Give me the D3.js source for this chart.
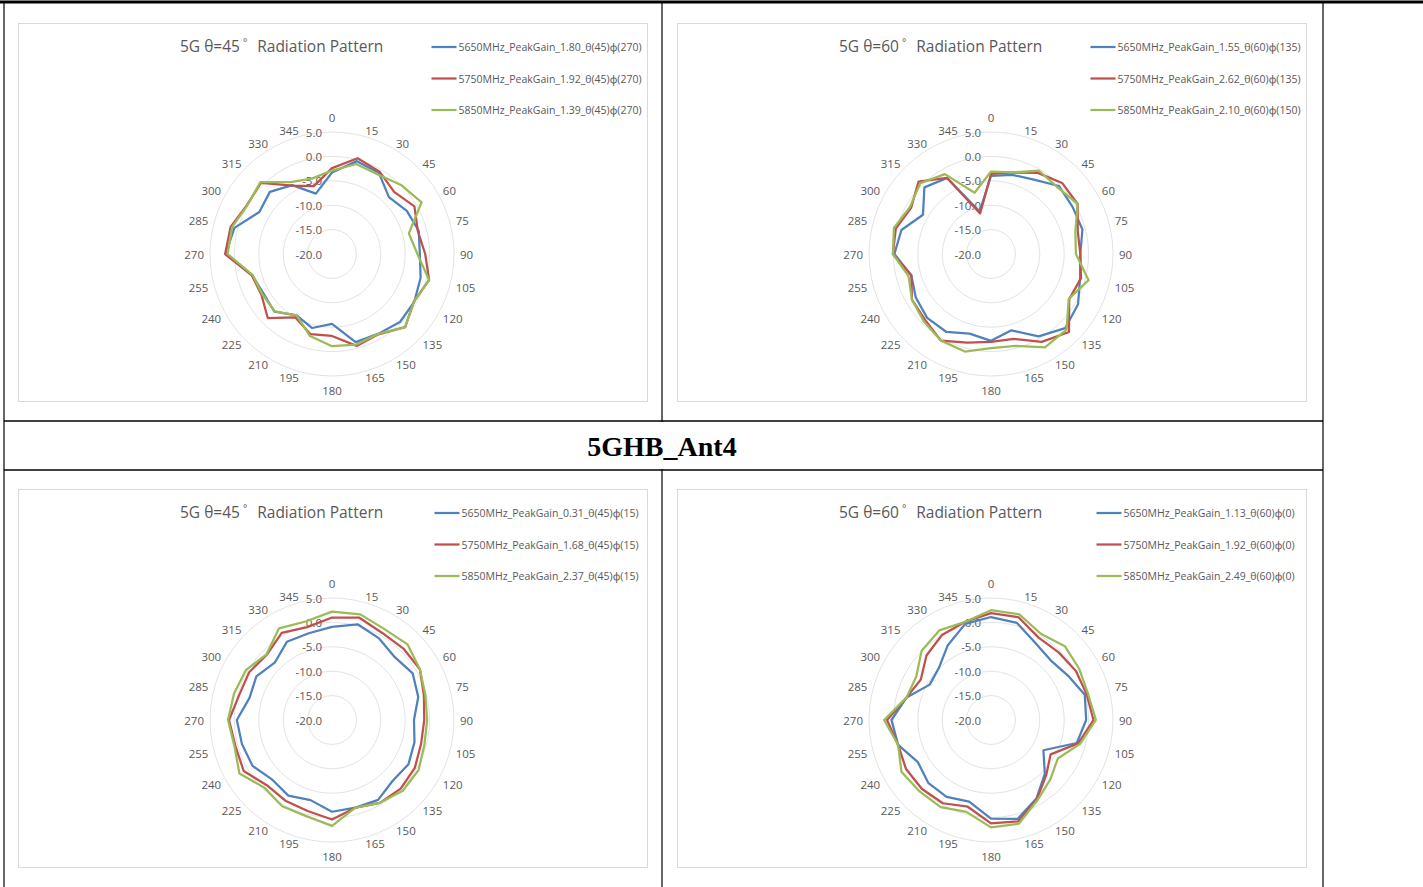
<!DOCTYPE html>
<html>
<head>
<meta charset="utf-8">
<script src="https://cdn.jsdelivr.net/npm/d3@7"></script>
<style>
  body { margin: 0; background: #fff; }
  text { font-family: "Open Sans", "Noto Sans", sans-serif; }
</style>
</head>
<body>
<script>
// angles (deg) and value axis ticks
var angles = [0,15,30,45,60,75,90,105,120,135,150,165,180,195,210,225,240,255,270,285,300,315,330,345];
var rTicks = [-20,-15,-10,-5,0,5];
var colors = ["#4f81bd", "#c0504d", "#9bbb59"];

// chart 1: theta 45, top row
var c1_5650 = [-3.3,-0.3,-0.8,-3.5,-2.3,-1.6,-2.0,-1.2,-0.5,-0.3,-1.1,-1.3,-5.7,-4.3,-5.5,-3.3,-3.8,-3.1,1.8,0.7,-2.8,-2.0,-3.7,-7.2];
var c1_5750 = [-2.4,0.3,-0.5,-2.0,-0.5,-1.8,-0.9,0.6,-0.6,1.2,-1.0,-0.5,-3.2,-3.0,-5.0,-1.4,-3.3,-3.0,1.9,1.5,0.1,0.6,-3.8,-5.6];
var c1_5850 = [-2.9,-0.9,-1.2,0.0,1.2,-3.7,-2.5,0.6,-0.6,1.2,-1.1,-0.8,-1.1,-2.6,-5.5,-3.4,-3.5,-3.2,1.4,1.2,0.0,0.8,-3.0,-4.0];
var c1_names = ["5650MHz_PeakGain_1.80_θ(45)ϕ(270)", "5750MHz_PeakGain_1.92_θ(45)ϕ(270)", "5850MHz_PeakGain_1.39_θ(45)ϕ(270)"];

// chart 2: theta 60, top row
var c2_5650 = [-4.0,-3.2,-2.4,-0.3,-0.7,-0.6,-1.7,-1.1,0.6,1.5,-0.5,-3.8,-2.2,-3.1,-1.6,-1.5,-2.2,-3.1,-0.2,-1.0,-3.9,-0.7,-2.0,-11.0];
var c2_5750 = [-3.6,-2.7,-0.8,0.6,0.5,-1.6,-1.7,-0.9,-1.5,2.6,0.8,-2.0,-2.0,-1.2,0.5,-0.9,-1.3,-3.1,0.1,0.2,-1.1,1.0,-2.0,-11.4];
var c2_5850 = [-3.1,-2.7,-0.3,-0.7,0.5,-2.1,-2.6,0.7,-1.6,1.9,2.1,-0.5,-0.7,0.7,0.5,-0.5,-1.3,-2.5,0.1,0.6,-0.8,0.5,-1.1,-7.0];
var c2_names = ["5650MHz_PeakGain_1.55_θ(60)ϕ(135)", "5750MHz_PeakGain_2.62_θ(60)ϕ(135)", "5850MHz_PeakGain_2.10_θ(60)ϕ(150)"];

// chart 3: theta 45, bottom row
var c3_5650 = [-0.9,0.3,-0.7,-1.8,-0.9,-1.7,-3.2,-2.5,-1.9,-2.4,-1.1,-1.4,-1.2,-3.0,-2.1,-2.7,-1.2,-0.9,-0.5,-2.5,-2.1,-3.4,-1.5,-1.6];
var c3_5750 = [1.0,1.7,0.6,0.7,0.8,-0.5,-1.1,-1.1,-0.4,-0.1,-0.4,-1.4,0.4,-0.7,-0.9,-1.1,0.9,0.5,1.1,-0.3,-0.4,-1.1,0.6,-0.3];
var c3_5850 = [2.2,2.4,1.5,1.9,0.8,-0.2,-0.5,-0.4,0.5,0.5,-0.4,-1.4,1.7,0.4,0.4,-0.4,1.9,0.7,1.3,0.8,0.4,-1.0,1.7,0.9];
var c3_names = ["5650MHz_PeakGain_0.31_θ(45)ϕ(15)", "5750MHz_PeakGain_1.68_θ(45)ϕ(15)", "5850MHz_PeakGain_2.37_θ(45)ϕ(15)"];

// chart 4: theta 60, bottom row
var c4_5650 = [1.1,0.6,-1.8,-2.7,-1.8,-0.1,-0.5,-1.8,-7.6,-4.4,-1.4,1.0,0.2,-2.7,-1.8,-1.8,-2.7,-0.3,0.4,-2.1,-5.5,-4.9,-2.3,0.4];
var c4_5750 = [1.9,1.8,-0.5,-0.4,0.1,0.3,1.0,-1.5,-5.9,-4.0,-1.2,1.5,1.2,-1.6,-0.3,0.0,0.1,-0.3,1.3,-2.1,-3.4,-1.3,0.1,0.8];
var c4_5850 = [2.5,2.4,0.4,1.4,0.9,0.6,1.5,-1.1,-4.2,-2.8,-1.0,2.0,2.0,-0.5,0.6,0.7,1.2,-0.3,1.9,-2.1,-2.3,0.1,1.2,0.8];
var c4_names = ["5650MHz_PeakGain_1.13_θ(60)ϕ(0)", "5750MHz_PeakGain_1.92_θ(60)ϕ(0)", "5850MHz_PeakGain_2.49_θ(60)ϕ(0)"];

var W = 1423, H = 887;
var svg = d3.select("body").append("svg")
    .attr("width", W)
    .attr("height", H);

// table lines
svg.append("line").attr("x1", 0).attr("x2", W).attr("y1", 2).attr("y2", 2)
    .attr("stroke", "#000").attr("stroke-width", 3);
[4, 662, 1323].forEach(function(x) {
    svg.append("line").attr("x1", x).attr("x2", x).attr("y1", 2).attr("y2", H)
        .attr("stroke", "#000").attr("stroke-width", 1.2);
});
[421, 470].forEach(function(y) {
    svg.append("line").attr("x1", 4).attr("x2", 1323).attr("y1", y).attr("y2", y)
        .attr("stroke", "#000").attr("stroke-width", 1.5);
});
// no middle divider inside the header row
svg.append("rect").attr("x", 659).attr("y", 422).attr("width", 6).attr("height", 47).attr("fill", "#fff");

svg.append("text")
    .attr("x", 662).attr("y", 446)
    .attr("text-anchor", "middle")
    .attr("dominant-baseline", "central")
    .style("font-family", "'Liberation Serif', 'Times New Roman', serif")
    .style("font-weight", "bold")
    .style("font-size", "28px")
    .text("5GHB_Ant4");

var r = d3.scaleLinear().domain([-20, 5]).range([0, 122]);

function drawChart(bx, by, theta, names, series) {
    var g = svg.append("g").attr("transform", "translate(" + bx + "," + by + ")");
    g.append("rect")
        .attr("x", 0.5).attr("y", 0.5).attr("width", 629).attr("height", 378)
        .attr("fill", "#fff").attr("stroke", "#d9d9d9");

    var tt = g.append("text")
        .attr("x", 162).attr("y", 23)
        .attr("dominant-baseline", "central")
        .style("font-size", "15.5px")
        .style("fill", "#595959");
    tt.append("tspan").text("5G θ=" + theta);
    tt.append("tspan").attr("dx", 3).attr("dy", -4).style("font-size", "10px").text("°");
    tt.append("tspan").attr("dx", 10).attr("dy", 4).text("Radiation Pattern");

    // legend, centred at x=518
    var leg = g.append("g");
    names.forEach(function(n, i) {
        var t = leg.append("text")
            .attr("y", 24 + i * 31.5)
            .attr("dominant-baseline", "central")
            .style("font-size", "10.5px")
            .style("fill", "#595959")
            .text(n);
        var tw = t.node().getComputedTextLength();
        var x0 = 518.5 - (27 + tw) / 2;
        t.attr("x", x0 + 27);
        leg.append("line")
            .attr("x1", x0).attr("x2", x0 + 25)
            .attr("y1", 24 + i * 31.5).attr("y2", 24 + i * 31.5)
            .attr("stroke", colors[i]).attr("stroke-width", 2.25);
    });

    var p = g.append("g").attr("transform", "translate(314,231)");

    p.selectAll(".ring")
        .data(rTicks.slice(1))
        .enter().append("circle")
        .attr("class", "ring")
        .attr("r", function(d) { return r(d); })
        .attr("fill", "none")
        .attr("stroke", "#e3e3e3")
        .attr("stroke-width", 1);

    p.selectAll(".vlab")
        .data(rTicks)
        .enter().append("text")
        .attr("class", "vlab")
        .attr("x", -10)
        .attr("y", function(d) { return -r(d); })
        .attr("text-anchor", "end")
        .attr("dominant-baseline", "central")
        .style("font-size", "11.5px")
        .style("fill", "#595959")
        .text(function(d) { return d.toFixed(1); });

    var R = r(5) + 6;
    p.selectAll(".alab")
        .data(angles)
        .enter().append("text")
        .attr("class", "alab")
        .attr("x", function(d) { return R * Math.sin(d * Math.PI / 180); })
        .attr("y", function(d) {
            var c = Math.cos(d * Math.PI / 180);
            if (d == 0) return -R - 1;
            if (d == 180) return R + 1;
            return -R * c;
        })
        .attr("text-anchor", function(d) {
            if (d == 0 || d == 180) return "middle";
            return d < 180 ? "start" : "end";
        })
        .attr("dominant-baseline", function(d) {
            if (d == 0) return "text-after-edge";
            if (d == 180) return "text-before-edge";
            return "central";
        })
        .style("font-size", "11.5px")
        .style("fill", "#595959")
        .text(function(d) { return d; });

    var line = d3.lineRadial()
        .angle(function(d) { return d.a * Math.PI / 180; })
        .radius(function(d) { return r(d.v); })
        .curve(d3.curveLinearClosed);

    series.forEach(function(vals, i) {
        var pts = angles.map(function(a, j) { return {a: a, v: vals[j]}; });
        p.append("path")
            .attr("d", line(pts))
            .attr("fill", "none")
            .attr("stroke", colors[i])
            .attr("stroke-width", 2.25)
            .attr("stroke-linejoin", "round");
    });
}

drawChart(18, 23, "45", c1_names, [c1_5650, c1_5750, c1_5850]);
drawChart(677, 23, "60", c2_names, [c2_5650, c2_5750, c2_5850]);
drawChart(18, 489, "45", c3_names, [c3_5650, c3_5750, c3_5850]);
drawChart(677, 489, "60", c4_names, [c4_5650, c4_5750, c4_5850]);
</script>
</body>
</html>
